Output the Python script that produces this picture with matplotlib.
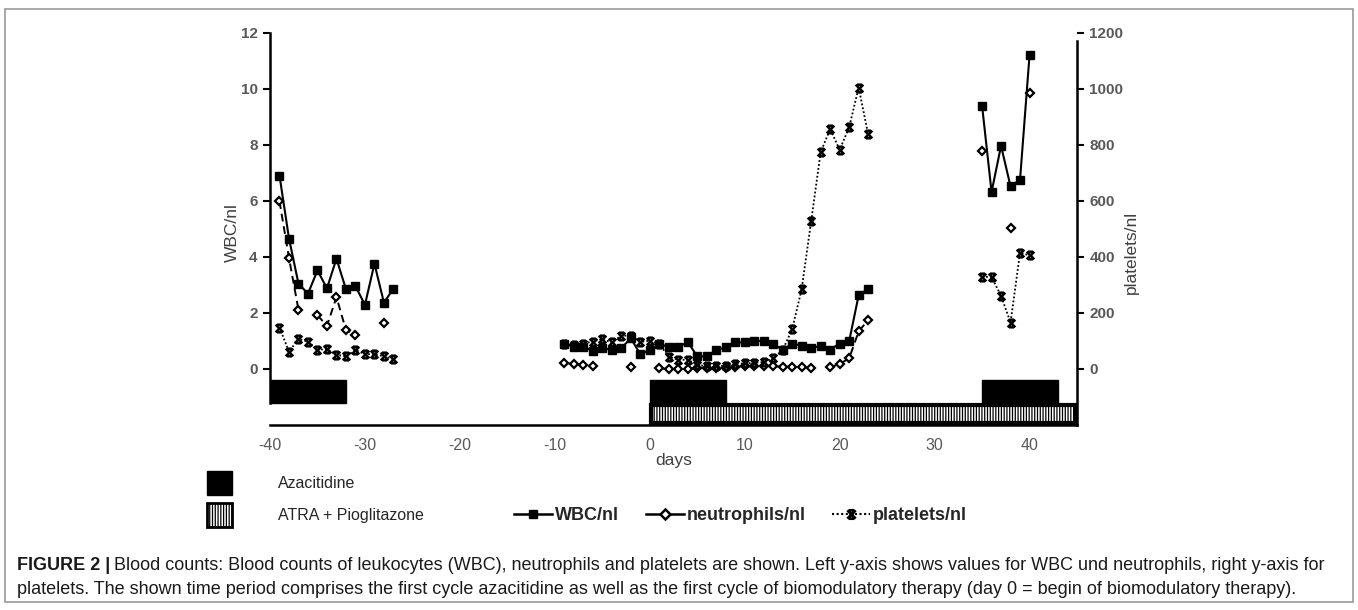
import numpy as np
import matplotlib
matplotlib.use("Agg")
import matplotlib.pyplot as plt
from matplotlib.path import Path
from matplotlib.patches import Rectangle, Patch
from matplotlib.lines import Line2D

plt.rcParams['font.family'] = ['Liberation Sans', 'DejaVu Sans']
plt.rcParams['axes.unicode_minus'] = False
plt.rcParams['hatch.linewidth'] = 0.9

# ---- data ----
nan = np.nan
days_a = list(range(-39, -26))
wbc_a = [6.91, 4.66, 3.05, 2.69, 3.52, 2.88, 3.94, 2.85, 2.96, 2.29, 3.76, 2.37, 2.87]
neut_a = [5.99, 3.97, 2.11, nan, 1.92, 1.54, 2.57, 1.39, 1.22, nan, nan, 1.63, nan]
plt_a = [148, 62, 107, 98, 69, 71, 51, 45, 68, 53, 53, 45, 36]

days_b = list(range(-9, 24))
wbc_b = [0.91, 0.79, 0.80, 0.65, 0.75, 0.68, 0.74, 1.10, 0.53, 0.68, 0.89, 0.79, 0.77,
         0.97, 0.45, 0.45, 0.68, 0.77, 0.95, 0.95, 1.01, 0.99, 0.91, 0.68, 0.91, 0.83,
         0.74, 0.83, 0.69, 0.91, 0.99, 2.63, 2.87]
neut_b = [0.22, 0.18, 0.15, 0.12, nan, nan, nan, 0.06, nan, nan, 0.02, 0.0, 0.0,
          0.0, 0.05, 0.02, 0.02, 0.05, 0.08, 0.10, 0.10, 0.12, 0.10, 0.08, 0.08, 0.06,
          0.05, nan, 0.06, 0.18, 0.38, 1.34, 1.75]
plt_b = [90, 85, 91, 98, 107, 95, 119, 119, 97, 101, 89, 44, 33, 33, 15, 10, 10, 12,
         18, 20, 22, 25, 38, 68, 142, 285, 528, 774, 857, 783, 863, 1005, 839]

days_c = list(range(35, 41))
wbc_c = [9.41, 6.32, 7.97, 6.52, 6.76, 11.21]
neut_c = [7.8, nan, nan, 5.02, nan, 9.87]
plt_c = [329, 329, 261, 166, 415, 406]

aza_start = [-40, 0, 35]
aza_len = [8, 8, 8]
atra_start = 0
atra_len = 45


def join(*parts):
    out = []
    for p in parts:
        out += list(p) + [nan]
    return np.array(out[:-1], dtype=float)


days = join(days_a, days_b, days_c)
wbc = join(wbc_a, wbc_b, wbc_c)
neut = join(neut_a, neut_b, neut_c)
plts = join(plt_a, plt_b, plt_c)

# hourglass-like star marker (Excel style)
star = Path([(-1, -1), (1, 1), (-1, 1), (1, -1), (-0.65, 1), (0.65, 1), (-0.65, -1), (0.65, -1)],
            [Path.MOVETO, Path.LINETO, Path.MOVETO, Path.LINETO,
             Path.MOVETO, Path.LINETO, Path.MOVETO, Path.LINETO])

fig = plt.figure(figsize=(13.58, 6.10), dpi=100)
ax = fig.add_axes([270 / 1358, 1 - 425 / 610, (1077 - 270) / 1358, (425 - 33) / 610])
ax2 = ax.twinx()

ax.set_xlim(-40, 45)
ax.set_ylim(-2, 12)
ax2.set_ylim(-200, 1200)

# therapy bars
ax.broken_barh(list(zip(aza_start, aza_len)), (-1.2, 0.8), facecolors='black', edgecolor='black', zorder=3)
ax.add_patch(Rectangle((atra_start + 0.15, -1.93), atra_len - 0.3, 0.63, facecolor='white',
                       edgecolor='black', linewidth=3, hatch='||||||', zorder=3, clip_on=False))

ax.plot(days, wbc, color='black', lw=1.5, marker='s', ms=5.5, zorder=4)
ax.plot(days, neut, color='black', lw=1.4, ls=(0, (4, 2.5)), marker='D', ms=4.2,
        mfc='white', mec='black', mew=1.6, zorder=4)
ax2.plot(days, plts, color='black', lw=1.3, ls=(0, (1, 1.2)), marker=star, ms=5.5,
         mec='black', mew=1.8, zorder=4)

grey = '#595959'
ax.set_yticks(range(0, 13, 2))
ax2.set_yticks(range(0, 1201, 200))
ax.set_xticks(range(-40, 41, 10))
for a in (ax, ax2):
    a.spines['top'].set_visible(False)
ax.spines['right'].set_visible(False)
ax2.spines['left'].set_visible(False)
ax2.spines['bottom'].set_visible(False)
ax.spines['left'].set_bounds(-1.2, 12)
ax.spines['left'].set_linewidth(1.8)
ax.spines['bottom'].set_linewidth(1.8)
ax2.spines['right'].set_linewidth(1.8)
ax2.spines['right'].set_bounds(-200, 1170)

ax.tick_params(axis='y', direction='out', length=5, width=1.5, labelsize=11, labelcolor=grey, pad=4)
ax2.tick_params(axis='y', direction='out', length=5, width=1.5, labelsize=11, labelcolor=grey, pad=4)
ax.tick_params(axis='x', length=0, labelsize=11.5, labelcolor=grey, pad=9)
for lab in ax.get_yticklabels() + ax2.get_yticklabels():
    lab.set_fontweight('bold')

ax.set_xlabel('days', fontsize=12.5, color='#404040', labelpad=0)
ax.set_ylabel('WBC/nl', fontsize=12.5, color='#404040')
ax.yaxis.set_label_coords(-0.037, 0.49)
ax2.set_ylabel('platelets/nl', fontsize=12.5, color='#404040')
ax2.yaxis.set_label_coords(1.058, 0.44)

# legends
h_bar = [Patch(facecolor='black', edgecolor='black'),
         Patch(facecolor='white', edgecolor='black', hatch='||||||', linewidth=2)]
leg1 = fig.legend(h_bar, ['Azacitidine', 'ATRA + Pioglitazone'], loc='upper left',
                  bbox_to_anchor=(207 / 1358, 1 - 471 / 610), frameon=False, fontsize=11.5,
                  handlelength=1.55, handleheight=1.9, handletextpad=2.9, labelspacing=0.55,
                  borderpad=0, borderaxespad=0)
for t in leg1.get_texts():
    t.set_color('#262626')

h_ser = [Line2D([], [], color='black', lw=1.8, marker='s', ms=6),
         Line2D([], [], color='black', lw=1.8, marker='D', ms=5, mfc='white', mew=1.8),
         Line2D([], [], color='black', lw=1.5, ls=(0, (1, 1.2)), marker=star, ms=6, mew=2)]
leg2 = fig.legend(h_ser, ['WBC/nl', 'neutrophils/nl', 'platelets/nl'], loc='center left',
                  bbox_to_anchor=(514 / 1358, 1 - 516 / 610), frameon=False, ncol=3,
                  prop={'size': 13, 'weight': 'bold'}, handlelength=2.1, handletextpad=0.15,
                  columnspacing=1.5, borderpad=0, borderaxespad=0)
for t in leg2.get_texts():
    t.set_color('#262626')

# outer frame
fig.add_artist(Rectangle((0.004, 0.013), 0.992, 0.972, transform=fig.transFigure,
                         fill=False, edgecolor='#9a9a9a', lw=1.2))

# caption
cap_font = ['Liberation Sans Narrow', 'Liberation Sans', 'DejaVu Sans']
line1 = ("Blood counts: Blood counts of leukocytes (WBC), neutrophils and platelets are shown. "
         "Left y-axis shows values for WBC und neutrophils, right y-axis for")
line2 = ("platelets. The shown time period comprises the first cycle azacitidine as well as the "
         "first cycle of biomodulatory therapy (day 0 = begin of biomodulatory therapy).")
x0 = 17 / 1358
t0 = fig.text(x0, 1 - 565 / 610, 'FIGURE 2 |', family=cap_font, fontsize=13,
              weight='bold', va='center', color='#1a1a1a')
fig.canvas.draw()
bb = t0.get_window_extent()
fig.text(bb.x1 / fig.bbox.width + 0.003, 1 - 565 / 610, line1, family=cap_font,
         fontsize=13, va='center', color='#1a1a1a')
fig.text(x0, 1 - 590 / 610, line2, family=cap_font, fontsize=13, va='center', color='#1a1a1a')

fig.savefig('out.png', dpi=100)
